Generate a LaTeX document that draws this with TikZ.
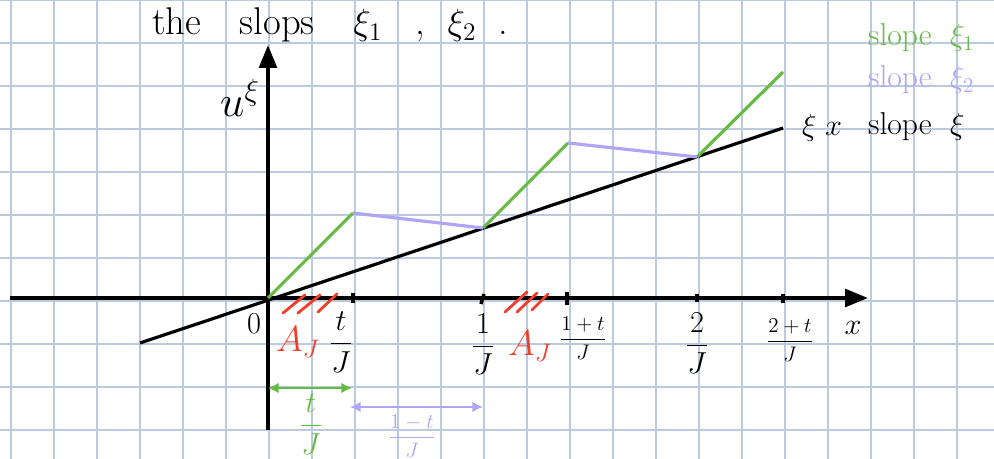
\documentclass[tikz,border=0pt]{standalone}
\usetikzlibrary{arrows.meta,positioning}
\definecolor{gridBlue}{HTML}{BCCAE0}
\definecolor{slopeGreen}{HTML}{66BB44}
\definecolor{slopePurple}{HTML}{B0A4F6}
\definecolor{hatchRed}{HTML}{F03E2A}
\newcommand{\dfr}[2]{\displaystyle\frac{#1}{#2}}

\begin{document}
\begin{tikzpicture}[x=0.02cm,y=-0.02cm,
  axis/.style={line width=2.2pt,-{Triangle[length=13pt,width=10pt]}},
  tickmark/.style={line width=2pt},
  hatch/.style={hatchRed,line width=1.6pt,line cap=round},
  lbl/.style={font=\fontsize{18}{20}\selectfont},
  small lbl/.style={font=\fontsize{13}{15}\selectfont},
  span/.style={line width=1.6pt,{Latex[length=6pt,width=6pt]}-{Latex[length=6pt,width=6pt]}}]
  \useasboundingbox (0,0) rectangle (994,459);
  \fill[white] (0,0) rectangle (994,459);

  % squared paper
  \foreach \gx in {11,54,...,994}
    \draw[gridBlue,line width=0.6pt] (\gx,0) -- (\gx,459);
  \foreach \gy in {0,43,...,459}
    \draw[gridBlue,line width=0.6pt] (0,\gy) -- (994,\gy);

  \coordinate (O) at (268,298);
  \coordinate (lineStart) at (140,343);
  \coordinate (lineEnd) at (783,128);
  \coordinate (p1) at (353,213);
  \coordinate (q1) at (483,228);
  \coordinate (p2) at (568,143);
  \coordinate (q2) at (697,157);
  \coordinate (p3) at (783,72);

  \draw[axis] (10,298) -- (868,298);
  \draw[axis] (268,430) -- (268,45);

  \draw[line width=1.8pt] (lineStart) -- (lineEnd);
  \draw[slopeGreen,line width=1.8pt] (O) -- (p1);
  \draw[slopeGreen,line width=1.8pt] (q1) -- (p2);
  \draw[slopeGreen,line width=1.8pt] (q2) -- (p3);
  \draw[slopePurple,line width=1.8pt] (p1) -- (q1);
  \draw[slopePurple,line width=1.8pt] (p2) -- (q2);

  \draw[tickmark] (353,293) -- (353,303);
  \draw[tickmark] (481,304) -- (484,294);
  \draw[tickmark] (567,292) -- (567,305);
  \draw[tickmark] (697,294) -- (697,302);
  \draw[tickmark] (783,294) -- (783,303);

  \draw[hatch] (283,313) -- (305,295);
  \draw[hatch] (298,313) -- (320,295);
  \draw[hatch] (318,312) -- (337,294);
  \draw[hatch] (505,312) -- (527,292);
  \draw[hatch] (517,312) -- (537,293);
  \draw[hatch] (532,310) -- (548,294);

  \node[anchor=west,font=\fontsize{22}{26}\selectfont,inner sep=1pt] (title) at (150,25)
    {the\quad slops\quad $\xi_1$\;\; ,\; $\xi_2$\; .};
  \node[font=\fontsize{24}{28}\selectfont] (ulabel) at (240,98) {$u^{\xi}$};
  \node[lbl] (zero) at (254,324) {$0$};
  \node[lbl] (xlabel) at (853,328) {$x$};

  \node[lbl] (ft) at (341,342) {$\dfr{t}{J}$};
  \node[lbl] (fone) at (483,344) {$\dfr{1}{J}$};
  \node[small lbl] (fonet) at (583,338) {$\dfr{1+t}{J}$};
  \node[lbl] (ftwo) at (697,343) {$\dfr{2}{J}$};
  \node[small lbl] (ftwot) at (790,340) {$\dfr{2+t}{J}$};

  \node[font=\fontsize{21}{24}\selectfont,text=hatchRed] (aone) at (298,342) {$A_J$};
  \node[font=\fontsize{21}{24}\selectfont,text=hatchRed] (atwo) at (530,346) {$A_J$};

  \node[lbl,anchor=west] (xix) at (796,128) {$\xi\; x$};
  \node[lbl,anchor=west] (slopeXi) at (862,127) {slope\; $\xi$};
  \node[lbl,anchor=west,text=slopeGreen] (slopeOne) at (862,38) {slope\; $\xi_1$};
  \node[lbl,anchor=west,text=slopePurple] (slopeTwo) at (862,80) {slope\; $\xi_2$};

  \coordinate (gL) at (268,388);
  \coordinate (gR) at (352,388);
  \coordinate (pL) at (350,407);
  \coordinate (pR) at (483,407);
  \draw[span,slopeGreen] (gL) -- (gR);
  \draw[span,slopePurple] (pL) -- (pR);
  \node[lbl,text=slopeGreen] (gspan) at (311,424) {$\dfr{t}{J}$};
  \node[small lbl,text=slopePurple] (pspan) at (412,436) {$\dfr{1-t}{J}$};
\end{tikzpicture}
\end{document}
